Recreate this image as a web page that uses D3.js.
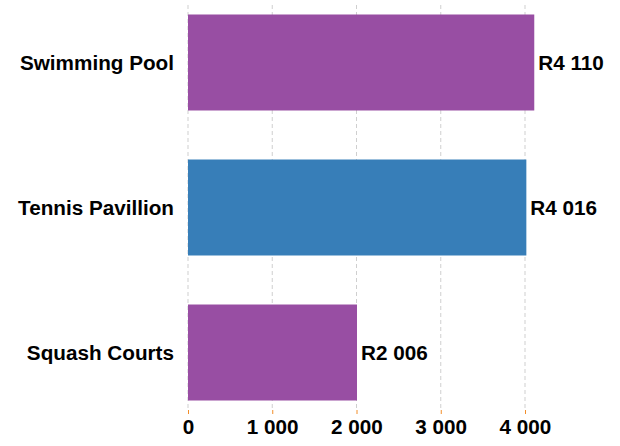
<!DOCTYPE html>
<html><head><meta charset="utf-8">
<script src="https://cdn.jsdelivr.net/npm/d3@7"></script>
<style>body{margin:0;background:#fff}svg{display:block}text{font-family:"Liberation Sans",Arial,sans-serif;font-weight:bold}</style>
</head><body>
<svg id="c" width="620" height="446"></svg>
<script>
const categories = ["Swimming Pool", "Tennis Pavillion", "Squash Courts"];
const values = [4110, 4016, 2006];
const colors = ["#984ea3", "#377eb8", "#984ea3"];
const tickValues = [0, 1000, 2000, 3000, 4000];

const svg = d3.select("#c");
const plotLeft = 188, plotTop = 5, plotBottom = 410;
const x = d3.scaleLinear().domain([0, 4000]).range([plotLeft, 525]);
const y = d3.scaleBand().domain(categories).range([plotTop, plotBottom]).paddingInner(0.338).paddingOuter(0.0655);
const fmt = v => d3.format(",")(v).replace(/,/g, " ");
const FS = 20.7;

// gridlines
svg.append("g").selectAll("line").data(tickValues).join("line")
  .attr("x1", d => x(d)).attr("x2", d => x(d))
  .attr("y1", plotTop).attr("y2", plotBottom)
  .attr("stroke", "#cfcfcf").attr("stroke-width", 1).attr("stroke-dasharray", "4,3");

// bars
svg.append("g").selectAll("rect").data(categories).join("rect")
  .attr("x", x(0)).attr("y", d => y(d))
  .attr("width", (d, i) => x(values[i]) - x(0))
  .attr("height", y.bandwidth())
  .attr("fill", (d, i) => colors[i]);

// value labels
svg.append("g").selectAll("text").data(categories).join("text")
  .attr("x", (d, i) => x(values[i]) + 4)
  .attr("y", d => y(d) + y.bandwidth() / 2)
  .attr("dy", "0.35em").attr("font-size", FS).attr("fill", "#000")
  .text((d, i) => "R" + fmt(values[i]));

// category labels
svg.append("g").selectAll("text").data(categories).join("text")
  .attr("x", 174).attr("y", d => y(d) + y.bandwidth() / 2)
  .attr("dy", "0.35em").attr("text-anchor", "end").attr("font-size", FS).attr("fill", "#000")
  .text(d => d);

// x axis
const ax = svg.append("g").attr("transform", `translate(0,${plotBottom})`)
  .call(d3.axisBottom(x).tickValues(tickValues).tickFormat(fmt).tickSize(4).tickPadding(5));
ax.select(".domain").remove();
ax.selectAll(".tick line").attr("stroke", "#f28e2b");
ax.selectAll(".tick text").attr("font-size", FS).attr("fill", "#000")
  .attr("font-family", '"Liberation Sans",Arial,sans-serif').attr("font-weight", "bold");
</script>
</body></html>
